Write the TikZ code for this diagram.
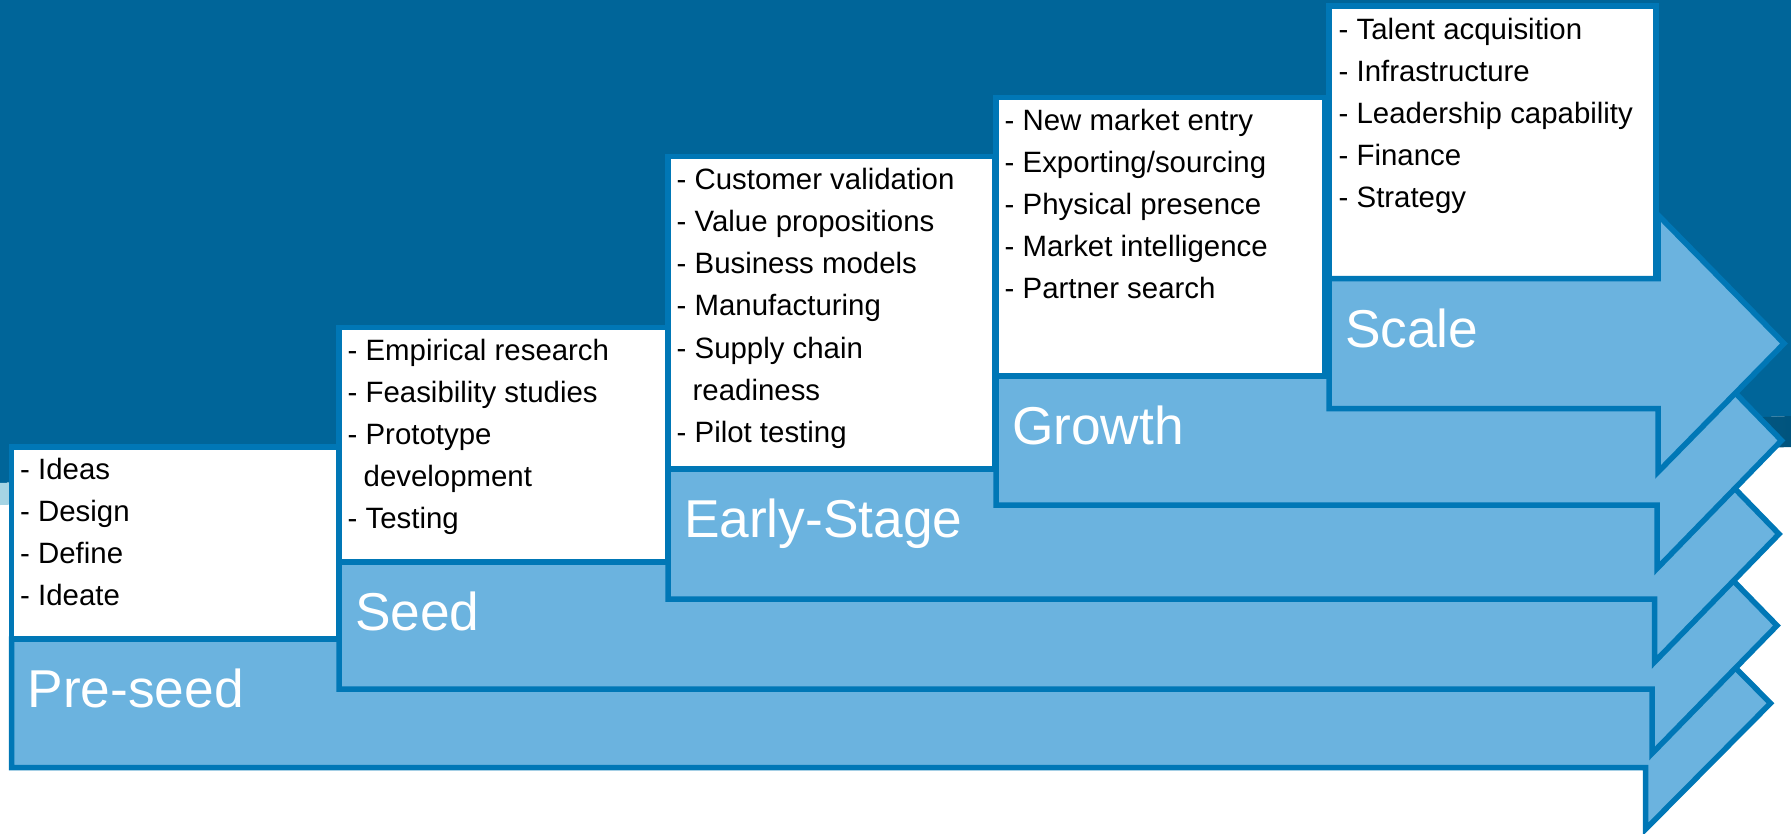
\documentclass[tikz,border=0pt]{standalone}
\usepackage{fontspec}
\setmainfont{Liberation Sans}
\definecolor{bgdark}{RGB}{0,101,153}
\definecolor{bgdeep}{RGB}{0,84,126}
\definecolor{bgcyan}{RGB}{165,212,228}
\definecolor{edgeblue}{RGB}{0,119,182}
\definecolor{fillblue}{RGB}{107,179,223}
\tikzset{
  boxstyle/.style={draw=edgeblue, fill=white, line width=5.5pt, line join=miter},
  arrowstyle/.style={draw=edgeblue, fill=fillblue, line width=5.5pt, line join=miter, miter limit=10},
  itemtxt/.style={anchor=base west, inner sep=0pt, outer sep=0pt, font=\fontsize{29.4}{35}\selectfont, text=black},
  stagetxt/.style={anchor=base west, inner sep=0pt, outer sep=0pt, font=\fontsize{53.3}{60}\selectfont, text=white},
}
% #1 box left, #2 box right, #3 box top, #4 shaft top, #5 shaft bottom, #6 head back, #7 tip, #8 head half height
\newcommand{\stageshape}[8]{%
  \draw[boxstyle] (#1,#3) rectangle (#2,#4);
  \draw[arrowstyle] (#1,#4) -- (#6,#4) -- (#6,{(#4+#5)/2-#8}) -- (#7,{(#4+#5)/2})
     -- (#6,{(#4+#5)/2+#8}) -- (#6,#5) -- (#1,#5) -- cycle;
}
% #1 name, #2 x, #3 first baseline, #4 lines
\newcommand{\itemlines}[4]{%
  \foreach \t [count=\i from 0] in {#4}
    \node[itemtxt] (#1-\i) at (#2,{#3+\i*42.2}) {\t};
}
\begin{document}
\begin{tikzpicture}[x=1pt,y=-1pt]
\useasboundingbox (0,0) rectangle (1791,833);
% background
\fill[bgdark] (0,0) -- (1791,0) -- (1791,416) -- (0,483) -- cycle;
\shade[left color=bgcyan, right color=bgdeep] (0,483) -- (1791,416) -- (1791,447) -- (0,505) -- cycle;

% Pre-seed
\stageshape{11.5}{339}{447}{639}{767.5}{1645.5}{1770.5}{126}
\itemlines{pre}{20.2}{479}{- Ideas,- Design,- Define,- Ideate}
\node[stagetxt] (preseed) at (27.5,707.5) {Pre-seed};

% Seed
\stageshape{339}{668}{327.5}{562}{689}{1652}{1777}{128}
\itemlines{seed}{347.7}{360}{- Empirical research,- Feasibility studies,- Prototype,{\hspace{16pt}development},- Testing}
\node[stagetxt] (seed) at (355,630.5) {Seed};

% Early-Stage
\stageshape{668}{995}{156.5}{469}{599}{1654.5}{1779}{128}
\itemlines{early}{676.7}{189.3}{- Customer validation,- Value propositions,- Business models,- Manufacturing,- Supply chain,{\hspace{16pt}readiness},- Pilot testing}
\node[stagetxt] (early) at (684,537.5) {Early-Stage};

% Growth
\stageshape{996}{1324.5}{97.5}{376}{505}{1657}{1781.5}{128}
\itemlines{growth}{1004.7}{130}{- New market entry,- Exporting/sourcing,- Physical presence,- Market intelligence,- Partner search}
\node[stagetxt] (growth) at (1012,444.5) {Growth};

% Scale
\stageshape{1329}{1656}{5.8}{278.5}{408.5}{1658}{1784}{128.5}
\itemlines{scale}{1338.7}{39}{- Talent acquisition,- Infrastructure,- Leadership capability,- Finance,- Strategy}
\node[stagetxt] (scale) at (1345,347) {Scale};
\end{tikzpicture}
\end{document}
